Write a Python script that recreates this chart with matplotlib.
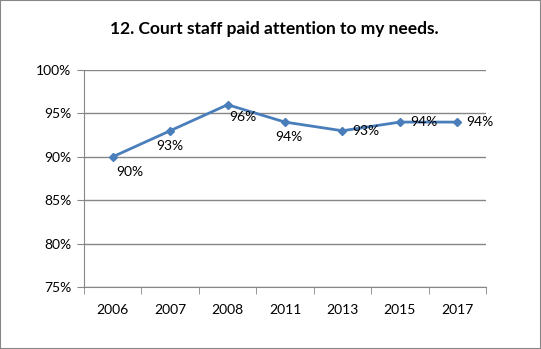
import matplotlib.pyplot as plt
from matplotlib.patches import Rectangle
import numpy as np

plt.rcParams['font.family'] = ['Lato', 'DejaVu Sans']

# %% data
years = ['2006', '2007', '2008', '2011', '2013', '2015', '2017']
pct = [90, 93, 96, 94, 93, 94, 94]
# label offsets (pixels) from each point
lab_dx = [17, 0, 15, 4, 23, 24, 23]
lab_dy = [-15, -15, -12, -15, 0, 0, 0]

# %% plot
fig = plt.figure(figsize=(5.41, 3.49), dpi=100)
ax = fig.add_axes([84 / 541, 1 - 287 / 349, 402 / 541, 217 / 349])

x = np.arange(len(years))
ax.plot(x, pct, color='#4A7EBB', lw=2, marker='D', ms=4.5, zorder=3)

px = 72 / 100  # pixel -> points
for xi, v, dx, dy in zip(x, pct, lab_dx, lab_dy):
    ax.annotate(f'{v}%', (xi, v), xytext=(dx * px, dy * px),
                textcoords='offset points', ha='center', va='center',
                fontsize=10, color='black', zorder=4)

ax.set_xlim(-0.5, len(years) - 0.5)
ax.set_ylim(75, 100)
ax.set_yticks(np.arange(75, 101, 5))
ax.set_yticklabels([f'{t}%' for t in range(75, 101, 5)], fontsize=10)
ax.yaxis.grid(True, color='#868686', lw=1)
ax.set_axisbelow(True)

ax.set_xticks(x)
ax.set_xticklabels(years, fontsize=10)
ax.set_xticks(np.arange(-0.5, len(years)), minor=True)
ax.tick_params(axis='x', which='major', length=0, pad=12)
ax.tick_params(axis='x', which='minor', length=5, color='#868686')
ax.tick_params(axis='y', length=5, color='#868686', pad=4)

for s in ['top', 'right']:
    ax.spines[s].set_visible(False)
for s in ['left', 'bottom']:
    ax.spines[s].set_color('#868686')

fig.text(274 / 541, 1 - 29 / 349, '12. Court staff paid attention to my needs.',
         ha='center', va='center', fontsize=12.5, fontweight='bold')

fig.patches.append(Rectangle((0, 0), 1, 1, transform=fig.transFigure,
                             fill=False, edgecolor='#868686', lw=1.5))

fig.savefig('out.png', dpi=100)
